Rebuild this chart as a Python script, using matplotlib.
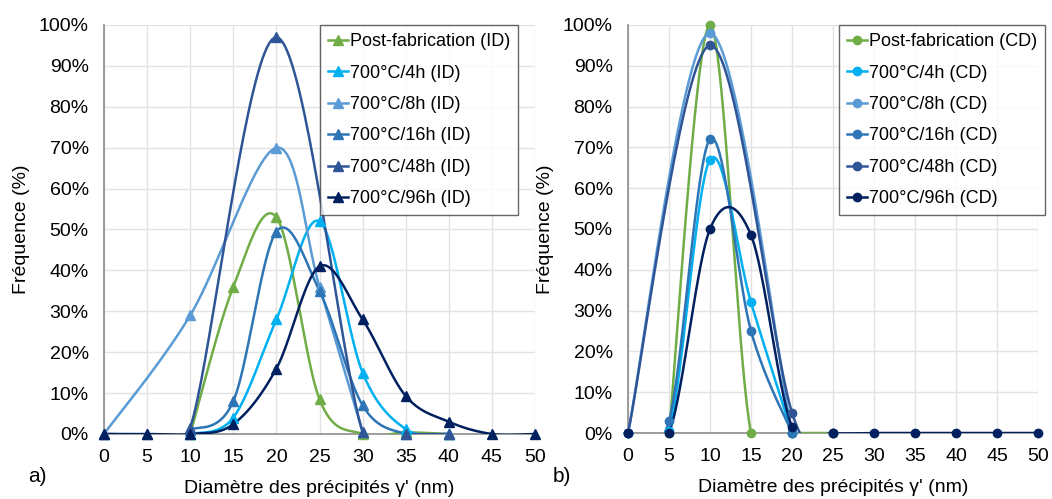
import numpy as np
import matplotlib.pyplot as plt
from matplotlib.ticker import FuncFormatter

plt.rcParams['font.family'] = ['Liberation Sans', 'DejaVu Sans']

# ---- data, panel a) (ID) ----
id_labels = ['Post-fabrication (ID)', '700°C/4h (ID)', '700°C/8h (ID)',
             '700°C/16h (ID)', '700°C/48h (ID)', '700°C/96h (ID)']
id_x = [
    [10, 15, 20, 25, 30, 35, 40],
    [10, 15, 20, 25, 30, 35, 40],
    [0, 10, 20, 25, 30],
    [10, 15, 20, 25, 30, 35, 40],
    [0, 5, 10, 20, 30, 35, 40],
    [0, 5, 10, 15, 20, 25, 30, 35, 40, 45, 50],
]
id_y = [
    [0, 36, 53, 8.5, 0, 0.4, 0],
    [0, 4, 28, 52, 15, 1.2, 0],
    [0, 29, 70, 36, 0.5],
    [1, 8, 49.5, 35, 7, 0, 0],
    [0, 0, 1.5, 97, 0.5, 0, 0],
    [0, 0, 0, 2.4, 16, 41, 28, 9.3, 3, 0, 0],
]

# ---- data, panel b) (CD) ----
cd_labels = ['Post-fabrication (CD)', '700°C/4h (CD)', '700°C/8h (CD)',
             '700°C/16h (CD)', '700°C/48h (CD)', '700°C/96h (CD)']
cd_x = [
    [5, 10, 15, 20, 25],
    [0, 5, 10, 15, 20],
    [0, 10, 20],
    [0, 5, 10, 15, 20],
    [0, 10, 20, 25],
    [0, 5, 10, 15, 20, 25, 30, 35, 40, 45, 50],
]
cd_y = [
    [0, 100, 0, 0, 0],
    [0, 0.5, 67, 32, 0],
    [0, 98, 0],
    [0, 3, 72, 25, 0],
    [0, 95, 5, 0],
    [0, 0, 50, 48.5, 1.5, 0, 0, 0, 0, 0, 0],
]

colors = ['#70AD47', '#00B0F0', '#5B9BD5', '#2E75B6', '#2F5597', '#002060']
x_ticks = np.arange(0, 55, 5)


def excel_smooth(x, y, n=40):
    # bezier smoothing like Excel's "smoothed line"
    pts = np.column_stack([x, y]).astype(float)
    out = []
    for i in range(len(pts) - 1):
        p0 = pts[i - 1] if i > 0 else pts[i]
        p1 = pts[i]
        p2 = pts[i + 1]
        p3 = pts[i + 2] if i + 2 < len(pts) else pts[i + 1]
        c1 = p1 + (p2 - p0) / 6
        c2 = p2 - (p3 - p1) / 6
        t = np.linspace(0, 1, n)[:, None]
        seg = ((1 - t)**3 * p1 + 3 * (1 - t)**2 * t * c1
               + 3 * (1 - t) * t**2 * c2 + t**3 * p2)
        out.append(seg if i == 0 else seg[1:])
    s = np.vstack(out)
    return s[:, 0], s[:, 1]


fig = plt.figure(figsize=(10.52, 4.99), dpi=100)
ax1 = fig.add_axes([104 / 1052, 65 / 499, 431 / 1052, 409 / 499])
ax2 = fig.add_axes([628 / 1052, 66 / 499, 410 / 1052, 408 / 499])


def setup(ax, xs, ys, labels, marker, ms, legend_x):
    for x, y, lab, c in zip(xs, ys, labels, colors):
        sx, sy = excel_smooth(x, y)
        ax.plot(sx, sy, color=c, lw=1.8, zorder=3)
        ax.plot(x, y, ls='none', marker=marker, ms=ms, color=c,
                clip_on=False, zorder=4)
        ax.plot([], [], color=c, lw=1.8, marker=marker, ms=ms, label=lab)
    ax.set_xlim(0, 50)
    ax.set_ylim(0, 100)
    ax.set_xticks(x_ticks)
    ax.set_yticks(np.arange(0, 101, 10))
    ax.yaxis.set_major_formatter(FuncFormatter(lambda v, p: f'{v:.0f}%'))
    ax.grid(True, color='#E3E3E3', lw=1)
    ax.set_axisbelow(True)
    for s in ['top', 'right']:
        ax.spines[s].set_visible(False)
    for s in ['left', 'bottom']:
        ax.spines[s].set_color('#8C8C8C')
        ax.spines[s].set_linewidth(1.2)
    ax.tick_params(length=0, labelsize=14, pad=11, colors='#000000')
    ax.set_xlabel("Diamètre des précipités γ' (nm)", fontsize=14, labelpad=10)
    ax.set_ylabel('Fréquence (%)', fontsize=14, labelpad=6)
    leg = ax.legend(loc='upper left', bbox_to_anchor=(legend_x, 1.0),
                    fontsize=13, frameon=True, fancybox=False,
                    handlelength=1.1, handletextpad=0.1, labelspacing=0.8,
                    borderpad=0.45, borderaxespad=0)
    leg.get_frame().set_edgecolor('#404040')
    leg.get_frame().set_linewidth(1.0)


setup(ax1, id_x, id_y, id_labels, '^', 7, (320 - 104) / 431)
setup(ax2, cd_x, cd_y, cd_labels, 'o', 6, (839 - 628) / 410)

fig.text(28 / 1052, 1 - 476 / 499, 'a)', fontsize=15, va='center')
fig.text(553 / 1052, 1 - 476 / 499, 'b)', fontsize=15, va='center')

fig.savefig('out.png', dpi=100)
